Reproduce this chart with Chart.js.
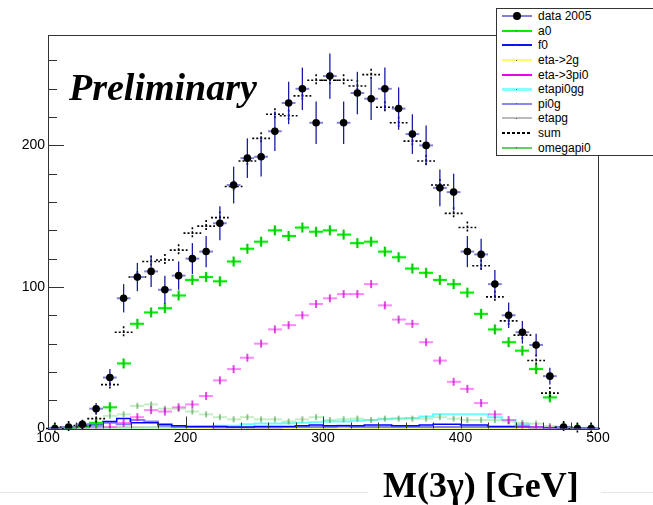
<!DOCTYPE html>
<html>
<head>
<meta charset="utf-8">
<script src="https://cdn.jsdelivr.net/npm/chart.js@4.4.1/dist/chart.umd.min.js"></script>
<style>
body { margin: 0; background: #fff; }
#wrap { position: relative; width: 653px; height: 505px; overflow: hidden; }
#c { position: absolute; left: 0; top: 0; }
#prelim { position: absolute; left: 69px; top: 68px; font: italic bold 38px "Liberation Serif"; line-height: 38px; color: #000; white-space: nowrap; }
#rule { position: absolute; left: 0; top: 492px; width: 653px; border-top: 1px solid #e4e4e4; }
#xtitle { position: absolute; left: 368px; top: 467px; padding: 0 22px 0 15px; background: #fff; font: bold 36px "Liberation Serif"; line-height: 36px; color: #000; white-space: nowrap; }
#legend { position: absolute; left: 496px; top: 8px; width: 160px; height: 146px; border: 1px solid #333; background: #fff; font: 12px "Liberation Sans"; }
.row { height: 14.6px; display: flex; align-items: center; }
.smp { position: relative; width: 30px; margin-left: 5px; margin-right: 6px; }
.dot { position: absolute; left: 14px; top: 50%; width: 1px; height: 1px; margin-top: -0.5px; background: #555; }
.big { left: 11px; width: 8px; height: 8px; margin-top: -4px; border-radius: 50%; background: #000; }
</style>
</head>
<body>
<div id="wrap">
  <canvas id="c" width="653" height="505"></canvas>
  <div id="prelim">Preliminary</div>
  <div id="rule"></div>
  <div id="xtitle">M(3γ) [GeV]</div>
  <div id="legend"></div>
</div>
<script>
const binCenters = [105, 115, 125, 135, 145, 155, 165, 175, 185, 195,
                    205, 215, 225, 235, 245, 255, 265, 275, 285, 295,
                    305, 315, 325, 335, 345, 355, 365, 375, 385, 395,
                    405, 415, 425, 435, 445, 455, 465, 475, 485, 495];
const binWidth = 10;

const data2005 = [0, 1, 3, 14, 36, 92, 107, 111, 98, 108,
                  120, 125, 145, 172, 191, 192, 210, 230, 240, 216,
                  249, 216, 237, 233, 240, 226, 208, 200, 170, 167,
                  125, 123, 102, 80, 68, 59, 37, 1, 0, 0];
const dataErr = [0, 1, 2, 4, 6, 10, 10, 11, 10, 10,
                 11, 11, 12, 13, 14, 14, 14, 15, 15, 15,
                 16, 15, 15, 15, 15, 15, 14, 14, 13, 13,
                 11, 11, 10, 9, 8, 8, 6, 1, 0, 0];
const sumMC = [0, 1, 2, 7, 31, 68, 107, 118, 119, 126,
               138, 143, 149, 171, 189, 205, 222, 221, 235, 246,
               246, 246, 242, 250, 227, 216, 203, 189, 172, 152,
               142, 115, 93, 76, 66, 48, 25, 1, 0, 0];
const a0 = [0, 0, 1, 4, 15, 46, 74, 82, 85, 94,
            105, 107, 104, 118, 127, 132, 140, 136, 142, 139,
            140, 137, 131, 132, 125, 121, 113, 110, 105, 102,
            96, 81, 70, 61, 55, 42, 22, 1, 0, 0];
const eta3pi0 = [0, 0, 0, 0, 1, 4, 8, 13, 12, 15,
                 17, 23, 34, 42, 50, 60, 70, 73, 80, 88,
                 92, 95, 95, 102, 87, 77, 74, 61, 48, 33,
                 28, 18, 10, 6, 2, 1, 0, 0, 0, 0];
const omegapi0 = [0, 0, 1, 3, 9, 10, 16, 17, 14, 14,
                  12, 10, 8, 6.5, 8, 6.5, 6.5, 5, 6.5, 8,
                  6, 6.5, 7, 6, 7, 7, 7, 7, 8, 7,
                  6, 6, 6, 5, 4, 3.5, 1.8, 0.5, 0, 0];
const f0 = [0, 0.5, 1, 3, 5, 7, 4, 4, 3, 2,
            1.5, 1.5, 1.5, 1, 1, 1.5, 1.5, 1.5, 2, 2.5,
            2, 2, 2, 2.5, 2.5, 2, 2, 2.5, 3, 3,
            2.5, 2.5, 1.5, 1.5, 1.5, 1, 0.5, 0, 0, 0];
const pi0g = [0, 0.5, 1, 2, 4, 3, 6, 5, 2, 1,
              1, 1, 0.5, 0.5, 0.5, 0.5, 0.5, 1, 1, 1,
              1, 2, 1, 1, 1, 1, 1, 1, 1, 1,
              1, 1, 1, 1, 1, 0.5, 0.5, 0, 0, 0];
const etapi0gg = [0, 0, 0, 0, 0, 0, 0, 0.5, 0.5, 0.5,
                  1, 1.5, 2, 2, 3, 3.5, 3.5, 3.7, 4, 4.5,
                  5, 5, 5.5, 6, 6.5, 7, 7.5, 8.5, 10, 10,
                  10, 10, 8, 6, 3, 1, 0, 0, 0, 0];
const etapg = [0, 0, 0.5, 1, 1, 1, 1, 1, 1, 1,
               1.5, 1, 1, 1, 0.5, 0.5, 1, 1, 1, 1,
               0.5, 1, 1, 0.5, 1, 0.5, 1, 0.5, 1, 1,
               1, 1, 1.5, 1.5, 1, 0.5, 0.5, 0, 0, 0];
const eta2g = [0, 0, 0, 0, 0, 0, 0, 0, 0, 0,
               0, 0, 0.3, 0.3, 0, 0, 0, 0, 0, 0,
               0, 0, 0, 0, 0.3, 0.3, 0, 0, 0, 0.3,
               0, 0, 0, 0, 0, 0, 0, 0, 0, 0];

const xTicks = [100, 200, 300, 400, 500];
const yTicks = [0, 100, 200];
const xRange = [100, 500];
const yRange = [0, 278];

const legendItems = [
    { label: "data 2005", color: "#7f7fd0", w: 2, kind: "data" },
    { label: "a0", color: "#00ee00", w: 2 },
    { label: "f0", color: "#1010ff", w: 2 },
    { label: "eta->2g", color: "#ffff66", w: 2 },
    { label: "eta->3pi0", color: "#ee00ee", w: 2 },
    { label: "etapi0gg", color: "#88ffff", w: 3 },
    { label: "pi0g", color: "#8888ee", w: 2 },
    { label: "etapg", color: "#bbbbbb", w: 2 },
    { label: "sum", color: "#000", w: 2, kind: "dash" },
    { label: "omegapi0", color: "#66cc66", w: 2 }
];

function pts(arr) {
    return binCenters.map((x, i) => ({ x: x, y: arr[i] }));
}

// ROOT style "+" marker: horizontal bar = bin width, short vertical bar
function crossImage(color, hColor, width, halfH) {
    const c = document.createElement("canvas");
    c.width = 14;
    c.height = halfH * 2 + 2;
    const g = c.getContext("2d");
    g.lineWidth = width;
    g.strokeStyle = hColor;
    g.beginPath();
    g.moveTo(0, c.height / 2);
    g.lineTo(14, c.height / 2);
    g.stroke();
    g.strokeStyle = color;
    g.beginPath();
    g.moveTo(7, 1);
    g.lineTo(7, c.height - 1);
    g.stroke();
    return c;
}

function crosses(label, arr, img) {
    return {
        label: label, data: pts(arr), showLine: false,
        pointStyle: img, pointRadius: 7
    };
}

function steps(label, arr, color, width) {
    return {
        label: label, data: pts(arr), stepped: "middle",
        borderColor: color, borderWidth: width, pointRadius: 0, fill: false
    };
}

const rootStyle = {
    id: "rootStyle",
    beforeDatasetDraw(chart, args) {
        if (args.index !== 0) return;
        const ctx = chart.ctx, xs = chart.scales.x, ys = chart.scales.y;
        const half = (xs.getPixelForValue(xRange[0] + binWidth) - xs.getPixelForValue(xRange[0])) / 2;
        ctx.save();

        ctx.strokeStyle = "#000";
        ctx.lineWidth = 1.6;
        ctx.setLineDash([2, 2]);
        chart.getDatasetMeta(1).data.forEach(p => {
            ctx.beginPath();
            ctx.moveTo(p.x - half - 2, p.y);
            ctx.lineTo(p.x + half + 2, p.y);
            ctx.moveTo(p.x, p.y - 6);
            ctx.lineTo(p.x, p.y + 6);
            ctx.stroke();
        });
        ctx.setLineDash([]);

        chart.getDatasetMeta(0).data.forEach((p, i) => {
            ctx.strokeStyle = "#8080d8";
            ctx.lineWidth = 2;
            ctx.beginPath();
            ctx.moveTo(p.x - half, p.y);
            ctx.lineTo(p.x + half, p.y);
            ctx.stroke();
            if (dataErr[i] > 0) {
                const top = ys.getPixelForValue(data2005[i] + dataErr[i]);
                const bot = ys.getPixelForValue(Math.max(0, data2005[i] - dataErr[i]));
                ctx.strokeStyle = "#1a1aa8";
                ctx.lineWidth = 1.3;
                ctx.beginPath();
                ctx.moveTo(p.x, top);
                ctx.lineTo(p.x, bot);
                ctx.stroke();
            }
        });
        ctx.restore();
    },
    afterDraw(chart) {
        const ctx = chart.ctx, a = chart.chartArea, xs = chart.scales.x, ys = chart.scales.y;
        ctx.save();
        ctx.strokeStyle = "#333";
        ctx.lineWidth = 1;
        ctx.strokeRect(Math.round(a.left) + 0.5, Math.round(a.top) + 0.5, Math.round(a.right - a.left), Math.round(a.bottom - a.top));
        ctx.beginPath();
        for (let v = yRange[0]; v <= yRange[1]; v += 20) {
            const py = Math.round(ys.getPixelForValue(v)) + 0.5;
            const len = yTicks.includes(v) ? 16 : 9;
            ctx.moveTo(a.left, py);
            ctx.lineTo(a.left + len, py);
        }
        for (let v = xRange[0]; v <= xRange[1]; v += 20) {
            const px = Math.round(xs.getPixelForValue(v)) + 0.5;
            const len = xTicks.includes(v) ? 12 : 6;
            ctx.moveTo(px, a.bottom);
            ctx.lineTo(px, a.bottom - len);
        }
        ctx.stroke();
        ctx.restore();
    }
};

function buildLegend() {
    const box = document.getElementById("legend");
    legendItems.forEach(item => {
        const row = document.createElement("div");
        row.className = "row";
        const smp = document.createElement("div");
        smp.className = "smp";
        smp.style.height = item.w + "px";
        if (item.kind === "dash") {
            smp.style.background = "repeating-linear-gradient(to right, #000 0 3px, transparent 3px 5px)";
        } else {
            smp.style.background = item.color;
            const d = document.createElement("div");
            d.className = item.kind === "data" ? "dot big" : "dot";
            smp.appendChild(d);
        }
        const txt = document.createElement("span");
        txt.textContent = item.label;
        row.appendChild(smp);
        row.appendChild(txt);
        box.appendChild(row);
    });
}

function drawChart() {
    new Chart(document.getElementById("c"), {
        type: "line",
        data: {
            datasets: [
                {
                    label: "data 2005", data: pts(data2005), showLine: false,
                    pointStyle: "circle", pointRadius: 3.8, pointBorderWidth: 0,
                    backgroundColor: "#000", borderColor: "#000"
                },
                { label: "sum", data: pts(sumMC), showLine: false, pointRadius: 0 },
                crosses("a0", a0, crossImage("#00cc00", "#00ee00", 2.2, 5)),
                crosses("eta->3pi0", eta3pi0, crossImage("#cc00cc", "#ff55ff", 1.4, 4)),
                crosses("omegapi0", omegapi0, crossImage("#338833", "#88dd88", 1, 3)),
                steps("f0", f0, "#0000ff", 1.5),
                steps("pi0g", pi0g, "#8080ff", 2),
                steps("etapi0gg", etapi0gg, "#66ffff", 2),
                steps("etapg", etapg, "#999999", 1),
                steps("eta->2g", eta2g, "#ffff00", 2)
            ]
        },
        options: {
            responsive: false,
            animation: false,
            devicePixelRatio: 1,
            layout: { padding: { top: 35, right: 55, left: 0, bottom: 0 } },
            plugins: { legend: { display: false }, tooltip: { enabled: false } },
            scales: {
                x: {
                    type: "linear", min: xRange[0], max: xRange[1],
                    grid: { display: false, drawTicks: false }, border: { display: false },
                    afterBuildTicks: s => { s.ticks = xTicks.map(v => ({ value: v })); },
                    afterFit: s => { s.height = 76.5; },
                    ticks: { padding: 1, color: "#000", font: { family: "Liberation Sans", size: 14 }, maxRotation: 0 }
                },
                y: {
                    type: "linear", min: yRange[0], max: yRange[1],
                    grid: { display: false, drawTicks: false }, border: { display: false },
                    afterBuildTicks: s => { s.ticks = yTicks.map(v => ({ value: v })); },
                    afterFit: s => { s.width = 48; },
                    ticks: { padding: 3, color: "#000", font: { family: "Liberation Sans", size: 14 } }
                }
            }
        },
        plugins: [rootStyle]
    });
}

buildLegend();
drawChart();
</script>
</body>
</html>
